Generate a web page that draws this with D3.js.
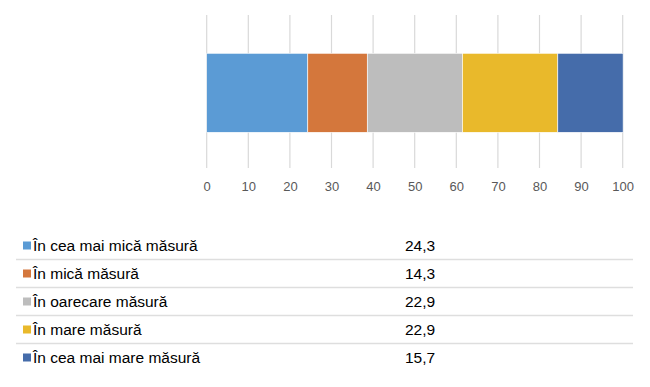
<!DOCTYPE html>
<html>
<head>
<meta charset="utf-8">
<script src="https://cdn.jsdelivr.net/npm/d3@7"></script>
<style>
  body { margin: 0; background: #fff; }
  svg { display: block; }
  text { font-family: 'Liberation Sans', sans-serif; }
</style>
</head>
<body>
<div id="chart"></div>
<script>
var categories = ['În cea mai mică măsură', 'În mică măsură', 'În oarecare măsură', 'În mare măsură', 'În cea mai mare măsură']
var values = [24.3, 14.3, 22.9, 22.9, 15.7]
var valueLabels = ['24,3', '14,3', '22,9', '22,9', '15,7']
var colors = ['#5b9bd5', '#d4773c', '#bdbdbd', '#e9b92b', '#456caa']
var xTicks = [0, 10, 20, 30, 40, 50, 60, 70, 80, 90, 100]

var width = 650
var height = 387

var svg = d3.select('#chart').append('svg')
  .attr('width', width)
  .attr('height', height)

var x = d3.scaleLinear()
  .domain([0, 100])
  .range([206.7, 622.7])

var gridTop = 15
var gridBottom = 168

// gridlines
svg.append('g')
  .selectAll('line')
  .data(xTicks)
  .enter().append('line')
  .attr('x1', d => x(d))
  .attr('x2', d => x(d))
  .attr('y1', gridTop)
  .attr('y2', gridBottom)
  .attr('stroke', '#d9d9d9')
  .attr('stroke-width', 1.2)

// stacked bar
var stack = []
var acc = 0
values.forEach((v, i) => {
  stack.push({ x0: acc, x1: acc + v, color: colors[i] })
  acc += v
})

svg.append('g')
  .selectAll('rect')
  .data(stack)
  .enter().append('rect')
  .attr('x', d => x(d.x0))
  .attr('width', d => x(d.x1) - x(d.x0))
  .attr('y', 53.3)
  .attr('height', 79)
  .attr('fill', d => d.color)
  .attr('stroke', '#fff')
  .attr('stroke-width', 0.6)

// x axis labels
var xAxis = d3.axisBottom(x)
  .tickValues(xTicks)
  .tickSize(0)
  .tickPadding(0)

var axisG = svg.append('g')
  .attr('transform', 'translate(0,' + 182 + ')')
  .call(xAxis)
axisG.select('.domain').remove()
axisG.selectAll('text')
  .attr('fill', '#595959')
  .style('font-size', '13px')
  .style('font-family', "'Liberation Sans', sans-serif")

// data table
var rowY = d3.scalePoint()
  .domain(categories)
  .range([245.5, 357.5])

var rows = svg.append('g')
  .selectAll('g')
  .data(categories)
  .enter().append('g')
  .attr('transform', d => 'translate(0,' + rowY(d) + ')')

rows.append('rect')
  .attr('x', 23)
  .attr('y', -4)
  .attr('width', 8)
  .attr('height', 8)
  .attr('fill', (d, i) => colors[i])

rows.append('text')
  .attr('x', 33)
  .attr('dy', '0.35em')
  .attr('fill', '#000')
  .style('font-size', '15.5px')
  .text(d => d)

rows.append('text')
  .attr('x', 405)
  .attr('dy', '0.35em')
  .attr('fill', '#000')
  .style('font-size', '15.5px')
  .text((d, i) => valueLabels[i])

rows.filter((d, i) => i < categories.length - 1)
  .append('line')
  .attr('x1', 16)
  .attr('x2', 633)
  .attr('y1', 14)
  .attr('y2', 14)
  .attr('stroke', '#dedede')
  .attr('stroke-width', 1.5)
</script>
</body>
</html>
